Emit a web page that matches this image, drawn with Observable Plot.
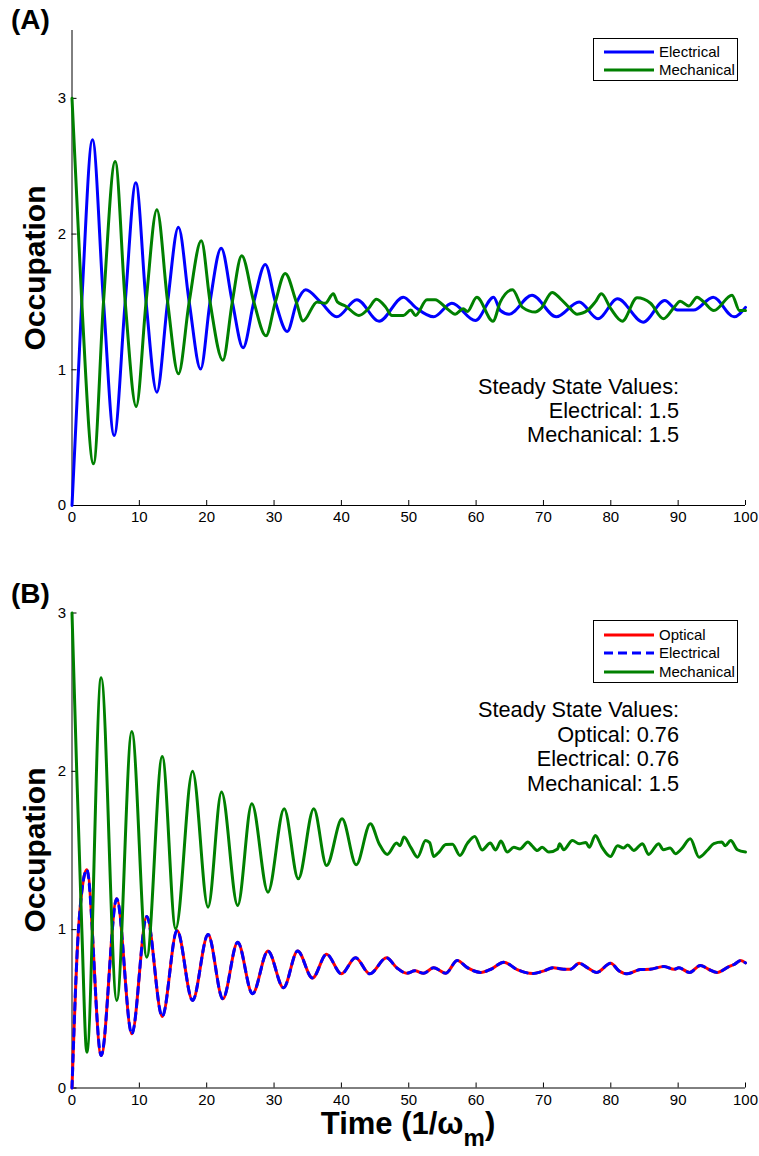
<!DOCTYPE html>
<html><head><meta charset="utf-8">
<script src="https://cdn.jsdelivr.net/npm/d3@7"></script>
<script src="https://cdn.jsdelivr.net/npm/@observablehq/plot@0.6"></script>
<style>
body{margin:0;background:#fff;font-family:"Liberation Sans",Arial,sans-serif;color:#000;}
#wrap{position:relative;width:759px;height:1156px;overflow:hidden;background:#fff;}
.panel{position:absolute;left:0;}
.ylab{position:absolute;font-weight:bold;font-size:30px;white-space:nowrap;transform:translate(-50%,-50%) rotate(-90deg);}
.tag{position:absolute;font-weight:bold;font-size:28px;white-space:nowrap;}
.note{position:absolute;right:80px;text-align:right;font-size:21.7px;white-space:nowrap;}
.legend{position:absolute;border:1px solid #000;background:#fff;box-sizing:border-box;font-size:15px;}
.legend .row{position:absolute;left:0;height:18px;line-height:18px;white-space:nowrap;}
.legend svg{position:absolute;left:10px;top:0;}
.legend span{position:absolute;left:65px;top:0;}
.xlab{position:absolute;font-weight:bold;font-size:31px;white-space:nowrap;transform:translateX(-50%);}
.xlab sub{font-size:24px;vertical-align:-12px;}
</style></head>
<body><div id="wrap"></div>
<script>
// ---------- Data ----------
const xTicks = [0,10,20,30,40,50,60,70,80,90,100];
const yTicks = [0,1,2,3];

// Panel A: Electrical (blue)
const aElecT = [0,1.45,3.04,4.68,6.26,7.9,9.48,11.0,12.6,14.2,15.8,17.4,19.1,20.5,22.15,23.8,25.4,27.0,28.7,30.2,31.95,33.4,34.7,36.9,39.3,42.3,45.6,49.2,51.0,53.7,56.4,59.9,62.6,63.6,64.9,68.3,71.9,75.3,78.1,81.0,84.8,88.0,89.9,92.3,95.2,98.3,100];
const aElecV = [0,1.5,2.695,1.5,0.516,1.5,2.378,1.5,0.835,1.5,2.05,1.5,1.005,1.5,1.896,1.5,1.162,1.5,1.776,1.5,1.282,1.5,1.59,1.50,1.39,1.516,1.358,1.535,1.46,1.39,1.49,1.363,1.535,1.437,1.41,1.55,1.39,1.5,1.376,1.523,1.351,1.51,1.44,1.44,1.535,1.39,1.46];

// Panel A: Mechanical (green)
const aMechT = [0,1.45,3.19,4.68,6.41,7.9,9.53,11.0,12.6,14.2,15.8,17.4,19.2,20.5,22.4,23.8,25.2,27.0,28.8,30.2,31.65,33.3,34.3,36.4,37.6,38.8,39.4,40.6,42.6,44.0,45.2,46.6,47.5,49.2,50.3,51.0,52.7,53.9,55.7,56.9,58.1,58.7,60.1,62.5,63.6,65.4,66.9,68.8,69.6,71.3,72.5,73.8,75.0,76.6,77.7,78.6,80.0,81.7,83.9,85.9,87.8,89.4,90.3,91.6,92.8,93.8,95.3,98.0,99.1,100];
const aMechV = [3.0,1.5,0.307,1.5,2.535,1.5,0.73,1.5,2.18,1.5,0.97,1.5,1.95,1.5,1.07,1.5,1.84,1.5,1.25,1.5,1.71,1.5,1.36,1.5,1.49,1.56,1.5,1.47,1.4,1.45,1.52,1.46,1.4,1.4,1.44,1.4,1.516,1.516,1.45,1.41,1.45,1.43,1.535,1.358,1.5,1.59,1.46,1.425,1.45,1.57,1.525,1.46,1.41,1.44,1.5,1.56,1.45,1.358,1.53,1.49,1.376,1.46,1.505,1.47,1.535,1.5,1.437,1.55,1.437,1.437];

// Panel B: Optical (red, solid) and Electrical (blue, dashed) overlap
const bOptT = [0,0.96,2.2,4.33,6.65,8.88,11.1,13.4,15.6,17.9,20.2,22.4,24.6,26.8,29.1,31.4,33.5,35.7,37.8,40.0,42.1,44.2,46.7,48.2,49.7,50.9,52.2,53.7,55.5,57.2,58.7,60.7,62.2,64.1,66.1,68.4,70.1,71.5,73.0,74.0,75.3,76.5,77.9,80.0,81.2,82.4,84.4,85.8,87.9,89.4,90.1,91.7,93.3,94.5,95.8,97.6,98.3,99.3,100];
const bOptV = [0,1.0,1.378,0.205,1.195,0.342,1.083,0.452,0.995,0.553,0.97,0.563,0.921,0.595,0.865,0.633,0.865,0.694,0.845,0.721,0.822,0.721,0.822,0.76,0.725,0.74,0.725,0.759,0.725,0.805,0.76,0.73,0.75,0.795,0.748,0.723,0.74,0.76,0.75,0.75,0.788,0.76,0.73,0.788,0.74,0.721,0.748,0.75,0.768,0.75,0.759,0.73,0.774,0.75,0.73,0.768,0.78,0.805,0.79];
const bElecT = bOptT.slice();
const bElecV = bOptV.slice();

// Panel B: Mechanical (green)
const bMechT = [0,0.7,1.46,2.2,4.33,6.65,8.88,11.1,13.4,15.4,17.9,20.2,22.2,24.6,26.7,29.1,31.5,33.6,35.9,37.8,40.1,42.2,44.3,45.6,46.8,48.2,48.7,49.3,50.3,51.3,52.5,53.1,53.7,54.5,55.5,56.5,57.6,58.7,59.8,60.9,62.1,62.9,63.7,64.6,65.6,66.5,67.7,68.3,69.1,69.8,70.8,72.1,72.4,73.0,74.3,75.3,76.3,76.8,77.7,78.7,79.95,81.0,81.9,82.5,83.4,84.7,85.6,87.1,87.8,88.8,89.6,90.5,91.8,93.1,94.3,95.3,96.5,97.0,97.8,98.8,100];
const bMechV = [3.0,2.0,1.0,0.226,2.591,0.553,2.252,0.826,2.094,1.006,2.001,1.142,1.869,1.153,1.795,1.237,1.764,1.321,1.764,1.405,1.70,1.41,1.669,1.543,1.475,1.547,1.53,1.585,1.52,1.458,1.563,1.55,1.462,1.49,1.538,1.54,1.469,1.545,1.589,1.503,1.547,1.503,1.56,1.49,1.52,1.51,1.553,1.53,1.50,1.52,1.49,1.51,1.543,1.505,1.563,1.543,1.55,1.52,1.595,1.52,1.462,1.53,1.516,1.535,1.50,1.543,1.475,1.543,1.505,1.516,1.48,1.51,1.574,1.458,1.50,1.543,1.553,1.53,1.563,1.505,1.49];

// Text
const panelTags = ["(A)", "(B)"];
const notesA = ["Steady State Values:", "Electrical: 1.5", "Mechanical: 1.5"];
const notesB = ["Steady State Values:", "Optical: 0.76", "Electrical: 0.76", "Mechanical: 1.5"];
const legendA = ["Electrical", "Mechanical"];
const legendB = ["Optical", "Electrical", "Mechanical"];
const yLabel = "Occupation";

// ---------- Helpers ----------
const zip = (T, V) => T.map((t, i) => ({t, v: V[i]}));
const BLUE = "#0000ff", GREEN = "#008000", RED = "#ff0000";
const LW = 3;
const DASH = "7,6";

function axes() {
  return [
    Plot.ruleY([0], {stroke: "#000", strokeWidth: 1}),
    Plot.ruleX([0], {stroke: "#000", strokeWidth: 1}),
    Plot.axisX({ticks: xTicks, tickSize: -5, tickPadding: 11, tickFormat: d => String(d), label: null, fontSize: 15, stroke: "#000", color: "#000"}),
    Plot.axisY({ticks: yTicks, tickSize: -5, tickPadding: 11, tickFormat: d => String(d), label: null, fontSize: 15, stroke: "#000", color: "#000"})
  ];
}

const commonStyle = {fontFamily: "'Liberation Sans', Arial, sans-serif", fontSize: "15px", color: "#000", background: "transparent", overflow: "visible"};

const chartA = Plot.plot({
  width: 759, height: 540,
  marginLeft: 71.5, marginRight: 14, marginTop: 30, marginBottom: 35,
  x: {domain: [0, 100]}, y: {domain: [0, 3.5]},
  style: commonStyle,
  marks: [
    ...axes(),
    Plot.line(zip(aElecT, aElecV), {x: "t", y: "v", stroke: BLUE, strokeWidth: LW, curve: "monotone-x"}),
    Plot.line(zip(aMechT, aMechV), {x: "t", y: "v", stroke: GREEN, strokeWidth: LW, curve: "monotone-x"})
  ]
});

const chartB = Plot.plot({
  width: 759, height: 576,
  marginLeft: 71.5, marginRight: 14, marginTop: 32.5, marginBottom: 68.5,
  x: {domain: [0, 100]}, y: {domain: [0, 3]},
  style: commonStyle,
  marks: [
    ...axes(),
    Plot.line(zip(bOptT, bOptV), {x: "t", y: "v", stroke: RED, strokeWidth: LW, curve: "monotone-x"}),
    Plot.line(zip(bElecT, bElecV), {x: "t", y: "v", stroke: BLUE, strokeWidth: LW, strokeDasharray: DASH, curve: "monotone-x"}),
    Plot.line(zip(bMechT, bMechV), {x: "t", y: "v", stroke: GREEN, strokeWidth: LW, curve: "monotone-x"})
  ]
});

const wrap = document.getElementById("wrap");
function place(el, top) {
  const d = document.createElement("div");
  d.className = "panel"; d.style.top = top + "px";
  d.appendChild(el); wrap.appendChild(d);
}
place(chartA, 0);
place(chartB, 580);

function addDiv(cls, html, css) {
  const d = document.createElement("div");
  d.className = cls; d.innerHTML = html;
  Object.assign(d.style, css);
  wrap.appendChild(d);
  return d;
}

// Panel tags
addDiv("tag", panelTags[0], {left: "11px", top: "4px"});
addDiv("tag", panelTags[1], {left: "11px", top: "578px"});

// Y labels
addDiv("ylab", yLabel, {left: "35px", top: "268px"});
addDiv("ylab", yLabel, {left: "35px", top: "850px"});

// X label
addDiv("xlab", "Time (1/\u03c9<sub>m</sub>)", {left: "408px", top: "1106px"});

// Notes
addDiv("note", notesA.join("<br>"), {top: "375px", lineHeight: "24px"});
addDiv("note", notesB.join("<br>"), {top: "698px", lineHeight: "24.7px"});

// Legends
function legend(items, styles, left, top, width, height, rowTops) {
  const box = addDiv("legend", "", {left: left + "px", top: top + "px", width: width + "px", height: height + "px"});
  items.forEach((name, i) => {
    const r = document.createElement("div");
    r.className = "row";
    r.style.top = rowTops[i] + "px";
    r.innerHTML = `<svg width="50" height="18"><line x1="0" x2="50" y1="9" y2="9" stroke="${styles[i].c}" stroke-width="${LW}" ${styles[i].dash ? `stroke-dasharray="${styles[i].dash}"` : ""}/></svg><span>${name}</span>`;
    box.appendChild(r);
  });
}
legend(legendA, [{c: BLUE}, {c: GREEN}], 593, 38, 145, 43, [3.5, 22]);
legend(legendB, [{c: RED}, {c: BLUE, dash: "9,5"}, {c: GREEN}], 593, 620, 145, 63, [4.5, 23, 41.5]);
</script>
</body></html>
